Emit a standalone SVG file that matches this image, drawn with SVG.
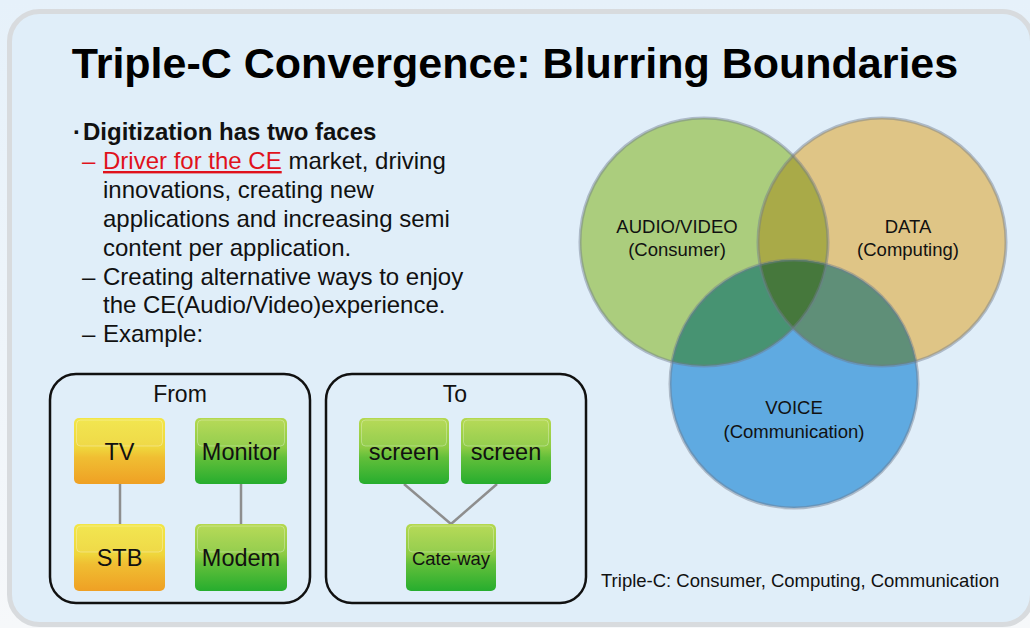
<svg xmlns="http://www.w3.org/2000/svg" width="1030" height="628" viewBox="0 0 1030 628">
  <style>
    .sans { font-family: "Liberation Sans", Arial, sans-serif; }
    .title { font-size: 43px; font-weight: bold; fill: #000; }
    .body { font-size: 24px; fill: #111; }
    .bold { font-weight: bold; }
    .red { fill: #e0121c; }
    .frame { fill: none; stroke: #111; stroke-width: 2.5; }
    .frameLabel { font-size: 23px; fill: #111; text-anchor: middle; }
    .nodeLabel { font-size: 23.5px; fill: #111; text-anchor: middle; }
    .nodeSmall { font-size: 18.5px; fill: #111; text-anchor: middle; }
    .gloss { fill: rgba(255,255,255,0.06); stroke: rgba(255,255,255,0.3); stroke-width: 1; }
    .link { stroke: #8e8e8e; stroke-width: 2.5; fill: none; }
    .venn { font-size: 18.5px; fill: #111; text-anchor: middle; }
    .ring { fill: none; stroke: rgba(110,122,140,0.45); stroke-width: 3; }
  </style>
  <defs>
    <linearGradient id="bgGrad" x1="0" y1="0" x2="0" y2="1">
      <stop offset="0" stop-color="#e6f1fa"/>
      <stop offset="1" stop-color="#f6f8fa"/>
    </linearGradient>
    <linearGradient id="yellow" x1="0" y1="0" x2="0" y2="1">
      <stop offset="0" stop-color="#f2e646"/>
      <stop offset="0.45" stop-color="#efd63c"/>
      <stop offset="0.6" stop-color="#f0be32"/>
      <stop offset="1" stop-color="#efa024"/>
    </linearGradient>
    <linearGradient id="green" x1="0" y1="0" x2="0" y2="1">
      <stop offset="0" stop-color="#b4d84e"/>
      <stop offset="0.45" stop-color="#8ccb44"/>
      <stop offset="0.6" stop-color="#62bf3a"/>
      <stop offset="1" stop-color="#26ad2e"/>
    </linearGradient>
    <clipPath id="cG"><circle cx="704" cy="242" r="124"/></clipPath>
    <clipPath id="cO"><circle cx="882" cy="242" r="124"/></clipPath>
    <clipPath id="cB"><circle cx="794" cy="384" r="124"/></clipPath>
  </defs>

  <!-- page background and slide panel -->
  <rect x="0" y="0" width="1030" height="628" fill="url(#bgGrad)"/>
  <rect x="9.5" y="11.5" width="1023" height="613" rx="30" fill="#e0eef9" stroke="#d8dbde" stroke-width="5"/>

  <!-- title -->
  <text class="sans title" x="515" y="78" text-anchor="middle">Triple-C Convergence: Blurring Boundaries</text>

  <!-- bullet list -->
  <g id="bullets" class="sans body">
    <text x="73" y="140" class="bold">·</text>
    <text x="83" y="140" class="bold">Digitization has two faces</text>
    <text x="82" y="169" class="red">–</text>
    <text x="103" y="169"><tspan class="red" text-decoration="underline">Driver for the CE</tspan> market, driving</text>
    <text x="103" y="198">innovations, creating new</text>
    <text x="103" y="227">applications and increasing semi</text>
    <text x="103" y="256">content per application.</text>
    <text x="82" y="284.5">–</text>
    <text x="103" y="284.5">Creating alternative ways to enjoy</text>
    <text x="103" y="313">the CE(Audio/Video)experience.</text>
    <text x="82" y="342">–</text>
    <text x="103" y="342">Example:</text>
  </g>

  <!-- From / To frames -->
  <g id="from-frame">
    <rect class="frame" x="50" y="374" width="260" height="229" rx="26"/>
    <text class="sans frameLabel" x="180" y="402">From</text>
  </g>
  <g id="to-frame">
    <rect class="frame" x="326" y="374" width="260" height="229" rx="26"/>
    <text class="sans frameLabel" x="455" y="402">To</text>
  </g>

  <!-- connectors -->
  <g id="connectors">
    <line class="link" x1="120" y1="484" x2="120" y2="524"/>
    <line class="link" x1="241" y1="484" x2="241" y2="524"/>
    <line class="link" x1="404" y1="484" x2="451" y2="524"/>
    <line class="link" x1="497" y1="484" x2="451" y2="524"/>
  </g>

  <!-- device nodes -->
  <g id="node-tv">
    <rect x="74" y="418" width="91" height="66" rx="5" fill="url(#yellow)"/>
    <rect class="gloss" x="76.5" y="420" width="86" height="26" rx="4"/>
    <text class="sans nodeLabel" x="119.5" y="460">TV</text>
  </g>
  <g id="node-stb">
    <rect x="74" y="524" width="91" height="67" rx="5" fill="url(#yellow)"/>
    <rect class="gloss" x="76.5" y="526" width="86" height="26" rx="4"/>
    <text class="sans nodeLabel" x="119.5" y="566">STB</text>
  </g>
  <g id="node-monitor">
    <rect x="195" y="418" width="92" height="66" rx="5" fill="url(#green)"/>
    <rect class="gloss" x="197.5" y="420" width="87" height="26" rx="4"/>
    <text class="sans nodeLabel" x="241" y="460">Monitor</text>
  </g>
  <g id="node-modem">
    <rect x="195" y="524" width="92" height="67" rx="5" fill="url(#green)"/>
    <rect class="gloss" x="197.5" y="526" width="87" height="26" rx="4"/>
    <text class="sans nodeLabel" x="241" y="566">Modem</text>
  </g>
  <g id="node-screen-1">
    <rect x="359" y="418" width="90" height="66" rx="5" fill="url(#green)"/>
    <rect class="gloss" x="361.5" y="420" width="85" height="26" rx="4"/>
    <text class="sans nodeLabel" x="404" y="460">screen</text>
  </g>
  <g id="node-screen-2">
    <rect x="461" y="418" width="90" height="66" rx="5" fill="url(#green)"/>
    <rect class="gloss" x="463.5" y="420" width="85" height="26" rx="4"/>
    <text class="sans nodeLabel" x="506" y="460">screen</text>
  </g>
  <g id="node-gateway">
    <rect x="406" y="524" width="90" height="67" rx="5" fill="url(#green)"/>
    <rect class="gloss" x="408.5" y="526" width="85" height="26" rx="4"/>
    <text class="sans nodeSmall" x="451" y="565">Cate-way</text>
  </g>

  <!-- Venn diagram of the three C's -->
  <g id="venn">
    <circle cx="704" cy="242" r="124" fill="#abcd7d"/>
    <circle cx="882" cy="242" r="124" fill="#dfc586"/>
    <circle cx="794" cy="384" r="124" fill="#5faae1"/>
    <g clip-path="url(#cG)"><circle cx="882" cy="242" r="124" fill="#a9aa48"/></g>
    <g clip-path="url(#cG)"><circle cx="794" cy="384" r="124" fill="#479372"/></g>
    <g clip-path="url(#cO)"><circle cx="794" cy="384" r="124" fill="#5f8f78"/></g>
    <g clip-path="url(#cG)"><g clip-path="url(#cO)"><circle cx="794" cy="384" r="124" fill="#46783c"/></g></g>
    <circle class="ring" cx="704" cy="242" r="124"/>
    <circle class="ring" cx="882" cy="242" r="124"/>
    <circle class="ring" cx="794" cy="384" r="124"/>
  </g>
  <g id="venn-consumer">
    <text class="sans venn" x="677" y="233">AUDIO/VIDEO</text>
    <text class="sans venn" x="677" y="256">(Consumer)</text>
  </g>
  <g id="venn-computing">
    <text class="sans venn" x="908" y="233">DATA</text>
    <text class="sans venn" x="908" y="256">(Computing)</text>
  </g>
  <g id="venn-communication">
    <text class="sans venn" x="794" y="414">VOICE</text>
    <text class="sans venn" x="794" y="438">(Communication)</text>
  </g>

  <!-- caption -->
  <text class="sans" x="601" y="587" font-size="18.5" fill="#111">Triple-C: Consumer, Computing, Communication</text>
</svg>
